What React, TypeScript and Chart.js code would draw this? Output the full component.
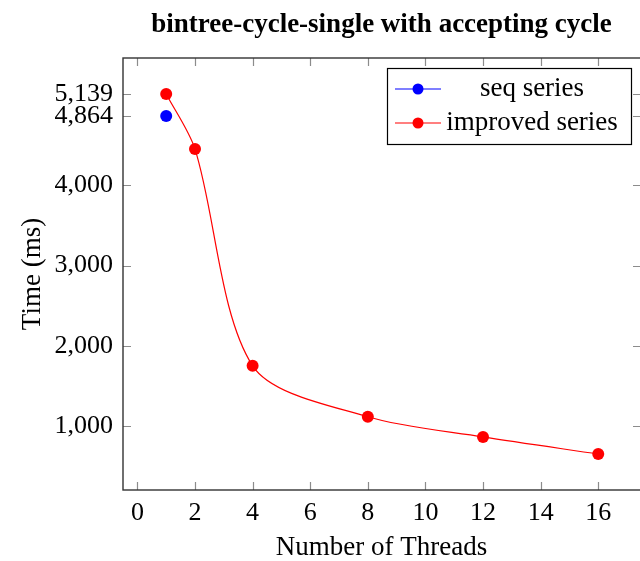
import React, { useEffect, useRef } from "react";
import { Chart, registerables } from "chart.js";

Chart.register(...registerables);

const chartTitle = "bintree-cycle-single with accepting cycle";
const xAxisTitle = "Number of Threads";
const yAxisTitle = "Time (ms)";

const seqThreads = [1];
const seqTimes = [4864];
const improvedThreads = [1, 2, 4, 8, 12, 16];
const improvedTimes = [5139, 4452, 1749, 1113, 862, 649];

const xTickValues = [0, 2, 4, 6, 8, 10, 12, 14, 16];
const yTickValues = [1000, 2000, 3000, 4000, 4864, 5139];

const seriesLabels = ["seq series", "improved series"];
const seriesColors = ["#0000ff", "#ff0000"];

const FONT = "'Liberation Serif', 'Times New Roman', serif";

const decorPlugin = {
  id: "decor",
  beforeDatasetsDraw(chart: any) {
    const { ctx, chartArea } = chart;
    const { left, right, top, bottom } = chartArea;
    const xs = chart.scales.x;
    const ys = chart.scales.y;
    ctx.save();
    // inner tick marks
    ctx.strokeStyle = "#8c8c8c";
    ctx.lineWidth = 1.2;
    const tl = 8;
    ctx.beginPath();
    xTickValues.forEach((v) => {
      const px = Math.round(xs.getPixelForValue(v)) + 0.5;
      ctx.moveTo(px, bottom);
      ctx.lineTo(px, bottom - tl);
      ctx.moveTo(px, top);
      ctx.lineTo(px, top + tl);
    });
    yTickValues.forEach((v) => {
      const py = Math.round(ys.getPixelForValue(v)) + 0.5;
      ctx.moveTo(left, py);
      ctx.lineTo(left + tl, py);
      ctx.moveTo(right + 1, py);
      ctx.lineTo(right + 1 - tl, py);
    });
    ctx.stroke();
    // frame (right edge lies just beyond the canvas)
    ctx.strokeStyle = "#333333";
    ctx.lineWidth = 1.4;
    ctx.strokeRect(left, top, right + 2 - left, bottom - top);
    // title
    ctx.fillStyle = "#000";
    ctx.font = `bold 27px ${FONT}`;
    ctx.textAlign = "center";
    ctx.textBaseline = "alphabetic";
    ctx.fillText(chartTitle, (left + right) / 2, 32);
    ctx.restore();
  },
  afterDatasetsDraw(chart: any) {
    const { ctx } = chart;
    const bx = 387, by = 68, bw = 244, bh = 76;
    ctx.save();
    ctx.fillStyle = "#fff";
    ctx.fillRect(bx, by, bw, bh);
    ctx.strokeStyle = "#000";
    ctx.lineWidth = 1.2;
    ctx.strokeRect(bx + 0.5, by + 0.5, bw, bh);
    chart.data.datasets.forEach((ds: any, i: number) => {
      const cy = by + 21 + i * 34;
      ctx.strokeStyle = ds.borderColor;
      ctx.lineWidth = 1.2;
      ctx.beginPath();
      ctx.moveTo(bx + 8, cy);
      ctx.lineTo(bx + 54, cy);
      ctx.stroke();
      ctx.fillStyle = ds.pointBackgroundColor;
      ctx.beginPath();
      ctx.arc(bx + 31, cy, 5.5, 0, Math.PI * 2);
      ctx.fill();
      ctx.fillStyle = "#000";
      ctx.font = `27px ${FONT}`;
      ctx.textAlign = "center";
      ctx.textBaseline = "middle";
      ctx.fillText(ds.label, bx + 145, cy);
    });
    ctx.restore();
  },
};

export default function App() {
  const canvasRef = useRef<HTMLCanvasElement | null>(null);

  useEffect(() => {
    document.body.style.margin = "0";
    const canvas = canvasRef.current;
    if (!canvas) return;
    const chart = new Chart(canvas, {
      type: "line",
      data: {
        datasets: [
          {
            label: seriesLabels[0],
            data: seqThreads.map((x, i) => ({ x, y: seqTimes[i] })),
            borderColor: seriesColors[0],
            backgroundColor: seriesColors[0],
            pointBackgroundColor: seriesColors[0],
            pointBorderWidth: 0,
            pointRadius: 6,
            borderWidth: 1.2,
            showLine: false,
          },
          {
            label: seriesLabels[1],
            data: improvedThreads.map((x, i) => ({ x, y: improvedTimes[i] })),
            borderColor: seriesColors[1],
            backgroundColor: seriesColors[1],
            pointBackgroundColor: seriesColors[1],
            pointBorderWidth: 0,
            pointRadius: 6,
            borderWidth: 1.2,
            tension: 0.3,
          },
        ],
      },
      options: {
        responsive: false,
        animation: false,
        devicePixelRatio: 1,
        layout: { autoPadding: false, padding: { top: 58, left: 0, right: 0, bottom: 0 } },
        plugins: {
          legend: { display: false },
          title: { display: false },
          tooltip: { enabled: false },
        },
        scales: {
          x: {
            type: "linear",
            min: -0.5,
            max: 17.45,
            grid: { display: false, drawTicks: false },
            border: { display: false },
            afterBuildTicks: (s: any) => {
              s.ticks = xTickValues.map((v) => ({ value: v }));
            },
            afterFit: (s: any) => {
              s.height = 71;
              s.paddingLeft = 0;
              s.paddingRight = 0;
            },
            ticks: {
              autoSkip: false,
              maxRotation: 0,
              color: "#000",
              padding: 8,
              font: { family: FONT, size: 26 },
            },
            title: {
              display: true,
              text: xAxisTitle,
              color: "#000",
              font: { family: FONT, size: 27, lineHeight: 1 },
              padding: { top: 0, bottom: 0 },
            },
          },
          y: {
            type: "linear",
            min: 200,
            max: 5588,
            grid: { display: false, drawTicks: false },
            border: { display: false },
            afterBuildTicks: (s: any) => {
              s.ticks = yTickValues.map((v) => ({ value: v }));
            },
            afterFit: (s: any) => {
              s.width = 123;
              s.paddingTop = 0;
              s.paddingBottom = 0;
            },
            ticks: {
              autoSkip: false,
              color: "#000",
              padding: 10,
              font: { family: FONT, size: 26 },
              callback: (v: any) => Number(v).toLocaleString("en-US"),
            },
            title: {
              display: true,
              text: yAxisTitle,
              color: "#000",
              font: { family: FONT, size: 27, lineHeight: 1 },
              padding: { top: 19, bottom: 0 },
            },
          },
        },
      },
      plugins: [decorPlugin],
    });
    return () => chart.destroy();
  }, []);

  return (
    <canvas
      ref={canvasRef}
      width={640}
      height={561}
      style={{ display: "block", width: 640, height: 561 }}
    />
  );
}
